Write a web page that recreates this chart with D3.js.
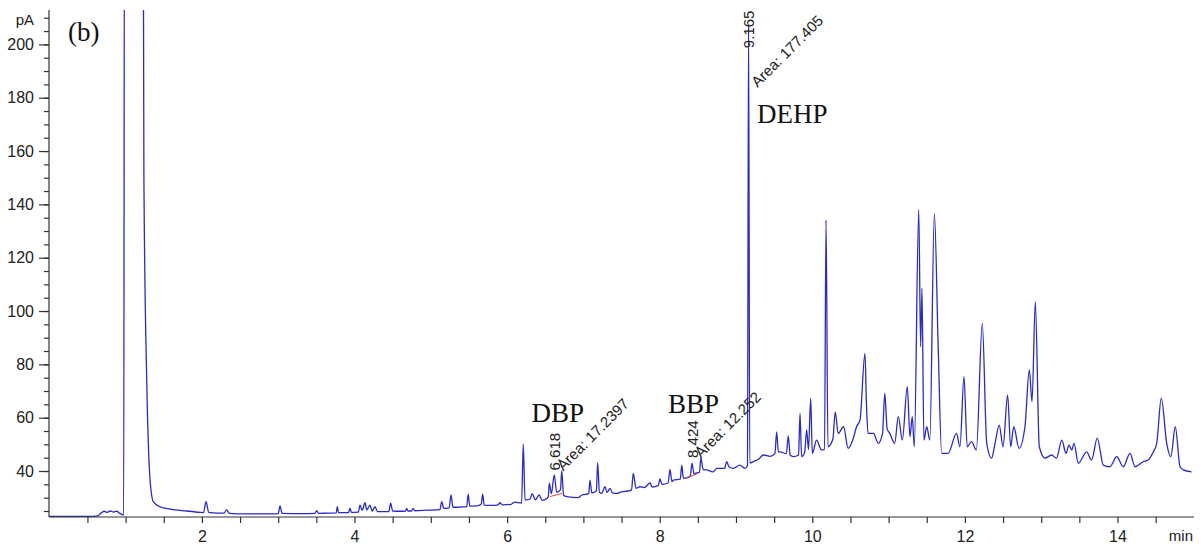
<!DOCTYPE html>
<html>
<head>
<meta charset="utf-8">
<script src="https://cdn.jsdelivr.net/npm/d3@7"></script>
<style>
  body { margin: 0; background: #fff; }
  svg { display: block; }
</style>
</head>
<body>
<script>
// retention time (min) and detector signal (pA)
const retentionMin = [
  0, 0.5, 0.64, 0.68, 0.72, 0.76, 0.8, 0.84, 0.88, 0.92, 0.96, 0.975,
  0.985, 1.23, 1.24, 1.277, 1.32, 1.363, 1.45, 1.582, 1.8, 1.975,
  2.02, 2.054, 2.09, 2.2, 2.29, 2.325, 2.36, 2.6, 2.9, 3.0, 3.024, 3.05,
  3.3, 3.48, 3.505, 3.53, 3.65, 3.76, 3.775, 3.79, 3.92, 3.941, 3.96,
  4.05, 4.072, 4.10, 4.138, 4.16, 4.203, 4.23, 4.27, 4.3, 4.45, 4.474, 4.5,
  4.6, 4.67, 4.684, 4.70, 4.75, 4.767, 4.79, 4.95, 5.12, 5.143, 5.17,
  5.24, 5.265, 5.29, 5.4, 5.47, 5.491, 5.51, 5.6, 5.66, 5.68, 5.70,
  5.8, 5.88, 5.907, 5.94, 6.05, 6.10, 6.19, 6.212, 6.235, 6.3, 6.33, 6.37,
  6.42, 6.46, 6.50, 6.54, 6.553, 6.58, 6.618, 6.65, 6.70, 6.716, 6.74,
  6.78, 6.93, 6.98, 7.07, 7.086, 7.11, 7.17, 7.187, 7.21, 7.24, 7.283,
  7.31, 7.35, 7.38, 7.436, 7.5, 7.58, 7.63, 7.654, 7.69, 7.742, 7.8,
  7.873, 7.9, 7.98, 8.004, 8.03, 8.11, 8.135, 8.16, 8.178, 8.27, 8.289,
  8.31, 8.33, 8.40, 8.424, 8.45, 8.463, 8.52, 8.54, 8.57, 8.616, 8.699,
  8.75, 8.85, 8.878, 8.91, 8.965, 9.052, 9.118, 9.15, 9.165, 9.18, 9.227,
  9.3, 9.358, 9.45, 9.51, 9.533, 9.555, 9.577, 9.66, 9.685, 9.71, 9.751,
  9.82, 9.839, 9.86, 9.90, 9.926, 9.95, 9.979, 10.0, 10.056, 10.12,
  10.16, 10.18, 10.205, 10.27, 10.3, 10.34, 10.41, 10.47, 10.53, 10.58,
  10.625, 10.69, 10.71, 10.73, 10.8, 10.865, 10.92, 10.95, 10.98, 11.015,
  11.08, 11.127, 11.18, 11.245, 11.28, 11.31, 11.337, 11.395, 11.42,
  11.437, 11.463, 11.5, 11.54, 11.6, 11.65, 11.696, 11.78, 11.89, 11.935,
  11.988, 12.03, 12.086, 12.15, 12.228, 12.286, 12.35, 12.395, 12.45,
  12.5, 12.56, 12.6, 12.64, 12.71, 12.787, 12.844, 12.88, 12.923, 12.975,
  13.05, 13.137, 13.2, 13.27, 13.325, 13.364, 13.4, 13.43, 13.486, 13.596,
  13.66, 13.735, 13.814, 13.9, 13.99, 14.076, 14.164, 14.23, 14.338, 14.4,
  14.47, 14.514, 14.574, 14.645, 14.7, 14.757, 14.82, 14.863, 14.97
];
const signalPA = [
  23.0, 23.0, 23.2, 24.3, 24.9, 24.5, 25.0, 24.6, 24.9, 24.2, 23.6, 23.5,
  260, 260, 150, 74, 37, 28.5, 26.6, 25.7, 25.0, 24.5,
  24.4, 28.5, 24.5, 24.2, 24.2, 25.4, 24.1, 23.9, 23.9, 24.0, 26.9, 24.1,
  24.0, 24.1, 25.1, 24.1, 24.2, 24.3, 26.6, 24.4, 24.4, 26.0, 24.5,
  24.6, 27.2, 25.2, 28.1, 25.4, 27.2, 25.0, 26.6, 24.8, 24.8, 27.9, 25.0,
  24.9, 25.0, 26.0, 25.0, 25.0, 26.0, 25.1, 25.3, 25.5, 28.5, 26.0,
  26.2, 31.0, 26.4, 26.5, 26.6, 31.3, 26.8, 26.9, 27.5, 31.3, 27.2,
  27.1, 27.3, 28.1, 27.3, 27.5, 28.3, 28.0, 50.1, 29.1, 29.5, 31.5, 29.2,
  31.0, 29.0, 29.3, 30.4, 35.4, 31.5, 38.5, 32.0, 33.0, 40.1, 31.0,
  30.4, 30.0, 31.0, 31.5, 36.6, 31.8, 32.5, 43.1, 32.0, 31.6, 34.1,
  32.0, 33.5, 31.8, 31.6, 32.2, 32.5, 32.8, 39.1, 33.5, 34.1, 33.8,
  35.5, 34.0, 34.5, 37.0, 35.0, 35.5, 40.6, 36.0, 36.6, 37.0, 42.2,
  37.3, 37.3, 38.0, 42.9, 38.8, 39.1, 39.5, 44.8, 40.5, 40.4, 39.7,
  41.0, 41.0, 43.5, 41.5, 41.0, 42.2, 41.0, 42.0, 207, 43.0, 43.5,
  44.5, 46.0, 45.5, 46.5, 54.7, 47.2, 47.2, 46.5, 53.2, 46.0, 45.4,
  46.0, 61.6, 45.4, 47.0, 55.4, 48.0, 67.3, 46.6, 51.6, 47.9,
  48.0, 134.1, 49.1, 52.0, 62.2, 54.1, 56.6, 48.5, 51.6, 56.6,
  59.1, 84.1, 65.0, 54.1, 54.1, 50.4, 54.0, 69.1, 56.0, 54.1,
  50.4, 60.4, 51.6, 71.6, 52.9, 60.4, 49.1, 138.1, 86.6,
  108.5, 51.6, 56.6, 51.6, 136.6, 86.6, 46.6, 46.6, 54.1, 49.1,
  75.4, 49.1, 51.0, 47.9, 95.4, 50.4, 44.8, 50.4, 57.2,
  49.1, 68.5, 49.1, 56.6, 48.5, 56.6, 77.9, 66.0, 103.5, 49.1,
  44.8, 46.0, 44.8, 51.6, 46.6, 49.7, 47.9, 50.4, 42.9, 47.2,
  44.1, 52.3, 42.2, 41.6, 45.4, 41.6, 46.6, 41.6, 43.5, 44.1,
  47.2, 50.4, 67.3, 50.4, 45.4, 56.6, 41.6, 40.4, 39.7
];

const xTickLabels = [2, 4, 6, 8, 10, 12, 14];
const yTickLabels = [40, 60, 80, 100, 120, 140, 160, 180, 200];

// integrated peaks
const peakNames = ["DBP", "BBP", "DEHP"];
const peakTimes = [6.618, 8.424, 9.165];
const peakAreas = ["17.2397", "12.252", "177.405"];
const timeLabelPA = [40.2, 44.9, 198.6];
const areaLabelPA = [39.8, 44.6, 183.6];
const nameLabelMin = [6.32, 8.11, 9.275];
const nameLabelPA = [58.5, 61.7, 170.5];
// integration baselines (start min, start pA, end min, end pA)
const baseStart = [[6.56, 30.4], [8.35, 37.3]];
const baseEnd = [[6.72, 31.6], [8.5, 39.1]];

const width = 1201, height = 549;
const plotL = 49, plotR = 1194, plotT = 10, plotB = 517;

const svg = d3.select("body").append("svg")
    .attr("width", width)
    .attr("height", height);

const x = d3.scaleLinear().domain([0, 15]).range([49.3, 1193.8]);
const y = d3.scaleLinear().domain([22.75, 212.9]).range([plotB, plotT]);

const data = retentionMin.map(function(t, i) { return {t: t, v: signalPA[i]}; });

svg.append("clipPath").attr("id", "plot")
    .append("rect")
    .attr("x", plotL).attr("y", plotT)
    .attr("width", plotR - plotL).attr("height", plotB - plotT);

const line = d3.line()
    .x(function(d) { return x(d.t); })
    .y(function(d) { return y(d.v); })
    .curve(d3.curveMonotoneX);

svg.append("path")
    .datum(data)
    .attr("clip-path", "url(#plot)")
    .attr("d", line)
    .attr("fill", "none")
    .attr("stroke", "#2a2acb")
    .attr("stroke-width", 1.3)
    .attr("stroke-linejoin", "round");

// red integration baselines
svg.selectAll(".base")
    .data(baseStart)
    .enter().append("line")
    .attr("x1", function(d) { return x(d[0]); })
    .attr("y1", function(d) { return y(d[1]); })
    .attr("x2", function(d, i) { return x(baseEnd[i][0]); })
    .attr("y2", function(d, i) { return y(baseEnd[i][1]); })
    .attr("stroke", "#e04040")
    .attr("stroke-width", 1);

// axes
const axisColor = "#333";
const tickFont = "'Liberation Sans', Arial, sans-serif";

const yMinor = svg.append("g")
    .attr("transform", "translate(" + plotL + ",0)")
    .call(d3.axisLeft(y).tickValues(d3.range(25, 211, 5)).tickSize(5).tickSizeOuter(0).tickFormat(""));
const yMajor = svg.append("g")
    .attr("transform", "translate(" + plotL + ",0)")
    .call(d3.axisLeft(y).tickValues(yTickLabels).tickSize(10).tickSizeOuter(0).tickPadding(5));

const xAxis = svg.append("g")
    .attr("transform", "translate(0," + plotB + ")")
    .call(d3.axisBottom(x)
        .tickValues(d3.range(0.5, 14.6, 0.5))
        .tickSize(6)
        .tickSizeOuter(0)
        .tickPadding(8)
        .tickFormat(function(d) { return xTickLabels.indexOf(d) >= 0 ? d : ""; }));

[yMinor, yMajor, xAxis].forEach(function(g) {
    g.selectAll("path, line").attr("stroke", axisColor).attr("stroke-width", 1.2);
    g.selectAll("text")
        .attr("fill", "#222")
        .style("font-family", tickFont)
        .style("font-size", "16px");
});
xAxis.select(".domain").attr("d", "M" + plotL + ",0H" + plotR);
yMajor.select(".domain").attr("d", "M0," + plotB + "V" + plotT);
yMinor.select(".domain").remove();

svg.append("text")
    .attr("x", 34).attr("y", 25)
    .attr("text-anchor", "end")
    .style("font-family", tickFont).style("font-size", "15px")
    .attr("fill", "#222")
    .text("pA");

svg.append("text")
    .attr("x", 1193).attr("y", 541)
    .attr("text-anchor", "end")
    .style("font-family", tickFont).style("font-size", "15px")
    .attr("fill", "#222")
    .text("min");

svg.append("text")
    .attr("x", 68).attr("y", 41)
    .style("font-family", "'Liberation Serif', 'Times New Roman', serif")
    .style("font-size", "27px")
    .attr("fill", "#111")
    .text("(b)");

// peak annotations
const ann = svg.append("g").attr("fill", "#222")
    .style("font-family", tickFont).style("font-size", "15px");

peakTimes.forEach(function(t, i) {
    ann.append("text")
        .attr("transform", "translate(" + (x(t) + 5.5) + "," + y(timeLabelPA[i]) + ") rotate(-90)")
        .text(t.toFixed(3));
    ann.append("text")
        .attr("transform", "translate(" + (x(t) + 9) + "," + y(areaLabelPA[i]) + ") rotate(-45)")
        .text("Area: " + peakAreas[i]);
    svg.append("text")
        .attr("x", x(nameLabelMin[i]))
        .attr("y", y(nameLabelPA[i]))
        .style("font-family", "'Liberation Serif', 'Times New Roman', serif")
        .style("font-size", "27px")
        .attr("fill", "#111")
        .text(peakNames[i]);
});
</script>
</body>
</html>
